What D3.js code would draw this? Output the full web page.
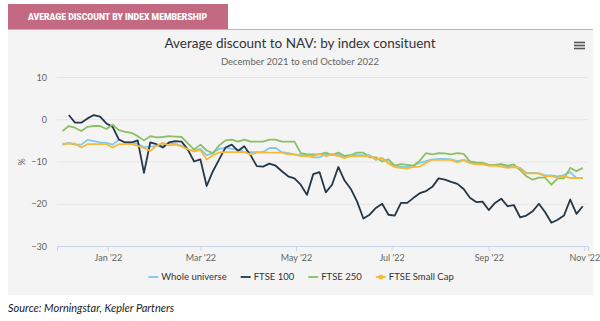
<!DOCTYPE html>
<html>
<head>
<meta charset="utf-8">
<script src="https://cdn.jsdelivr.net/npm/d3@7"></script>
<style>
  html, body { margin: 0; padding: 0; background: #fff; }
  svg { display: block; }
</style>
</head>
<body>
<svg id="chart"></svg>
<script>
// dati: un punto ogni 4 giorni dal 3 dicembre 2021
var startDate = new Date(2021, 11, 3);
var stepDays = 4;

var seriesNames = ["Whole universe", "FTSE 100", "FTSE 250", "FTSE Small Cap"];
var seriesColors = ["#7ecbe8", "#253746", "#8cc063", "#f6b93b"];

var wholeUniverse = [
  -6.0, -5.6, -6.0, -6.0, -4.9, -5.2, -5.5, -5.6, -6.0, -4.9,
  -5.5, -5.5, -5.8, -6.6, -6.5, -6.3, -6.1, -5.6, -5.8, -6.3,
  -7.2, -7.5, -7.0, -8.5, -8.0, -7.0, -6.8, -7.0, -7.2, -7.8,
  -7.8, -7.8, -7.8, -6.8, -6.8, -7.8, -8.0, -8.3, -8.5, -8.5,
  -9.0, -9.0, -8.3, -8.3, -8.5, -8.7, -8.5, -8.5, -8.5, -8.5,
  -9.6, -9.2, -10.3, -11.0, -11.3, -11.3, -11.0, -10.3, -9.9, -9.5,
  -9.4, -9.4, -9.5, -9.9, -9.6, -10.0, -10.5, -10.6, -10.8, -10.8,
  -10.7, -11.3, -11.3, -11.5, -12.7, -12.7, -12.8, -13.3, -13.3, -13.5,
  -13.2, -12.5, -13.9, -13.9
];

var ftse100 = [
  null, 1.0, -0.8, -0.8, 0.2, 1.0, 0.6, -1.0, -1.8, -4.8,
  -5.5, -5.5, -5.0, -12.7, -5.5, -5.9, -6.7, -5.5, -5.2, -5.3,
  -7.2, -10.0, -9.5, -15.8, -12.3, -9.5, -6.7, -6.0, -7.5, -6.4,
  -8.5, -11.1, -11.2, -10.5, -11.0, -12.3, -13.5, -14.0, -15.5, -17.9,
  -13.0, -12.5, -17.3, -15.5, -11.3, -14.5, -16.5, -19.5, -23.5, -22.6,
  -21.0, -20.0, -22.6, -22.8, -19.8, -19.8, -18.6, -17.5, -17.0, -16.0,
  -14.0, -14.3, -14.8, -15.3, -16.5, -18.6, -19.6, -19.5, -21.5, -19.8,
  -18.8, -20.6, -20.3, -23.2, -22.8, -21.8, -20.0, -22.0, -24.5, -23.8,
  -22.8, -19.0, -22.4, -20.6
];

var ftse250 = [
  -2.8, -1.6, -2.0, -2.8, -1.8, -1.6, -1.6, -2.3, -1.3, -2.6,
  -3.0, -3.2, -4.0, -5.0, -4.0, -4.3, -4.2, -4.0, -4.1, -4.2,
  -5.7, -7.2, -6.0, -7.4, -8.0, -6.2, -5.0, -4.8, -5.3, -4.8,
  -5.3, -5.3, -5.3, -4.8, -4.8, -5.3, -5.3, -5.3, -8.0, -8.3,
  -8.3, -8.3, -7.9, -8.5, -7.9, -8.7, -8.5, -7.9, -7.9, -9.0,
  -9.0, -10.0, -9.5, -11.0, -10.6, -10.8, -11.0, -9.8, -8.0, -8.3,
  -8.0, -8.1, -8.3, -8.0, -8.2, -10.0, -10.2, -10.3, -10.8, -10.8,
  -10.6, -11.0, -10.7, -12.0, -13.5, -14.3, -13.8, -13.8, -15.5, -14.0,
  -14.0, -11.5, -12.3, -11.5
];

var ftseSmallCap = [
  -5.8, -5.8, -5.8, -6.7, -5.9, -5.9, -5.9, -5.9, -6.7, -5.9,
  -5.9, -5.9, -6.3, -6.8, -7.5, -6.3, -5.6, -6.2, -6.0, -6.4,
  -7.1, -7.6, -7.3, -9.5, -8.5, -7.9, -7.8, -7.8, -7.8, -7.8,
  -8.3, -7.9, -7.9, -7.9, -7.9, -7.9, -8.3, -8.3, -8.7, -8.7,
  -8.7, -8.2, -8.7, -8.3, -8.7, -9.2, -8.7, -8.7, -8.7, -8.7,
  -9.5, -9.2, -10.5, -11.3, -11.5, -11.7, -11.3, -11.2, -10.3, -9.6,
  -9.6, -9.6, -9.6, -10.2, -9.7, -10.4, -10.7, -10.7, -11.0, -11.0,
  -11.2, -11.5, -11.3, -11.5, -12.8, -12.8, -12.8, -13.5, -13.4, -13.9,
  -13.5, -13.9, -13.9, -13.9
];

var yTicks = [10, 0, -10, -20, -30];

var allSeries = [wholeUniverse, ftse100, ftse250, ftseSmallCap];

function createChart() {
  var w = 600, h = 321;
  var font = "Lato, 'Open Sans', sans-serif";

  var svg = d3.select("#chart").attr("width", w).attr("height", h);

  // fascia rosa del titolo di sezione
  svg.append("rect")
    .attr("x", 8).attr("y", 4)
    .attr("width", 220).attr("height", 25)
    .attr("fill", "#c36a82");

  svg.append("text")
    .attr("x", 28).attr("y", 20)
    .attr("textLength", 179)
    .attr("lengthAdjust", "spacingAndGlyphs")
    .style("font-family", "Roboto, sans-serif")
    .style("font-size", "8.6px")
    .style("font-weight", "900")
    .style("fill", "#fff")
    .text("AVERAGE DISCOUNT BY INDEX MEMBERSHIP");

  // riquadro grigio del grafico
  svg.append("rect")
    .attr("x", 8).attr("y", 30)
    .attr("width", 585).attr("height", 265)
    .attr("fill", "#f4f4f4");

  svg.append("line")
    .attr("x1", 8).attr("x2", 593)
    .attr("y1", 29.5).attr("y2", 29.5)
    .attr("stroke", "#dea2b2")
    .attr("stroke-width", 1.2);

  // titolo e sottotitolo
  svg.append("text")
    .attr("x", 300).attr("y", 48)
    .attr("text-anchor", "middle")
    .style("font-family", font)
    .style("font-size", "13.5px")
    .style("fill", "#333")
    .text("Average discount to NAV: by index consituent");

  svg.append("text")
    .attr("x", 300).attr("y", 65)
    .attr("text-anchor", "middle")
    .style("font-family", font)
    .style("font-size", "9.5px")
    .style("fill", "#666")
    .text("December 2021 to end October 2022");

  // icona menu
  [42.5, 45.5, 48.5].forEach(function(yy) {
    svg.append("line")
      .attr("x1", 574).attr("x2", 585)
      .attr("y1", yy).attr("y2", yy)
      .attr("stroke", "#555")
      .attr("stroke-width", 1.6);
  });

  var dates = wholeUniverse.map(function(d, i) {
    return d3.timeDay.offset(startDate, i * stepDays);
  });

  var xScale = d3.scaleTime()
    .domain([new Date(2021, 10, 29, 12), new Date(2022, 10, 3, 8)])
    .range([57, 588]);
  var yScale = d3.scaleLinear().domain([-30, 10]).range([246, 77]);

  // griglia orizzontale
  var grid = svg.append("g")
    .attr("transform", "translate(57,0)")
    .call(d3.axisLeft(yScale).tickValues(yTicks).tickSize(-531).tickFormat(""));
  grid.select(".domain").remove();
  grid.selectAll("line").attr("stroke", "#e6e6e6");

  // etichette asse y
  var yAxis = svg.append("g")
    .attr("transform", "translate(47,0)")
    .call(d3.axisLeft(yScale).tickValues(yTicks).tickSize(0).tickPadding(0));
  yAxis.select(".domain").remove();
  yAxis.selectAll("text")
    .attr("dy", "0.35em")
    .style("font-family", font)
    .style("font-size", "9px")
    .style("fill", "#666");

  svg.append("text")
    .attr("transform", "translate(25,162) rotate(-90)")
    .attr("text-anchor", "middle")
    .style("font-family", font)
    .style("font-size", "9px")
    .style("fill", "#666")
    .text("%");

  // asse x
  var xAxis = svg.append("g")
    .attr("transform", "translate(0,246)")
    .call(d3.axisBottom(xScale)
      .ticks(d3.timeMonth.every(2))
      .tickFormat(d3.timeFormat("%b '%y"))
      .tickSize(5).tickPadding(4));
  xAxis.select(".domain").attr("stroke", "#ccd6eb");
  xAxis.selectAll("line").attr("stroke", "#ccd6eb");
  xAxis.selectAll("text")
    .style("font-family", font)
    .style("font-size", "9px")
    .style("fill", "#666");

  // linee delle serie
  var line = d3.line()
    .defined(function(d) { return d.v !== null; })
    .x(function(d) { return xScale(d.date); })
    .y(function(d) { return yScale(d.v); });

  allSeries.forEach(function(values, k) {
    var pts = values.map(function(v, i) { return { date: dates[i], v: v }; });
    svg.append("path")
      .datum(pts)
      .attr("d", line)
      .attr("fill", "none")
      .attr("stroke", seriesColors[k])
      .attr("stroke-width", 1.8)
      .attr("stroke-linejoin", "round");
  });

  // legenda centrata
  var legend = svg.append("g");
  var cursor = 0;
  seriesNames.forEach(function(name, k) {
    var item = legend.append("g").attr("transform", "translate(" + cursor + ",0)");
    item.append("line")
      .attr("x1", 0).attr("x2", 10)
      .attr("y1", 0).attr("y2", 0)
      .attr("stroke", seriesColors[k])
      .attr("stroke-width", 1.8);
    if (k === 3) {
      item.append("circle")
        .attr("cx", 5).attr("cy", 0).attr("r", 2.5)
        .attr("fill", seriesColors[k]);
    }
    var t = item.append("text")
      .attr("x", 13).attr("y", 3.3)
      .style("font-family", font)
      .style("font-size", "9.5px")
      .style("fill", "#333")
      .text(name);
    cursor += 13 + t.node().getComputedTextLength() + 14;
  });
  cursor -= 14;
  legend.attr("transform", "translate(" + (301 - cursor / 2) + ",277)");

  // fonte
  svg.append("text")
    .attr("x", 8).attr("y", 312)
    .style("font-family", font)
    .style("font-size", "11px")
    .style("font-style", "italic")
    .style("fill", "#222")
    .text("Source: Morningstar, Kepler Partners");
}

createChart();
</script>
</body>
</html>
